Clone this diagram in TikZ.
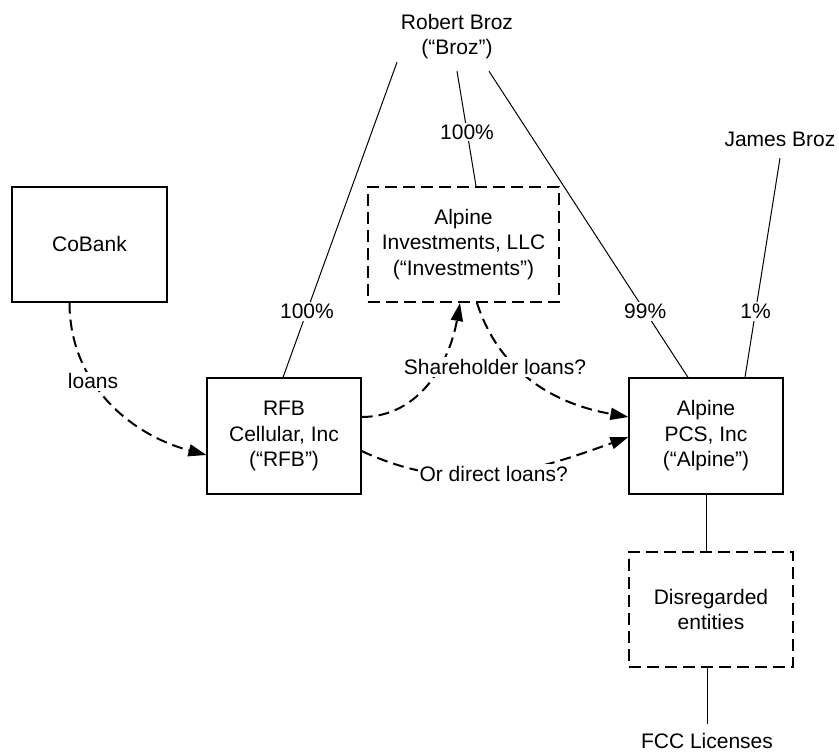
\documentclass[tikz,border=0pt]{standalone}
\usepackage{fontspec}
\setmainfont{Liberation Sans}
\usepackage{tikz}
\usetikzlibrary{arrows.meta}

\begin{document}
\begin{tikzpicture}[x=1pt, y=1pt, >={Triangle[length=18pt,width=12pt]},
  font=\fontsize{21}{25.5}\selectfont,
  box/.style={draw, line width=1.2pt, align=center, inner sep=0pt},
  dbox/.style={box, line width=2pt, dash pattern=on 12pt off 6pt},
  own/.style={line width=1pt},
  loan/.style={->, line width=2pt, dash pattern=on 11pt off 6pt},
  pct/.style={fill=white, inner sep=2pt}]
  \useasboundingbox (0,0) rectangle (839,752);
  % entities
  \node[box, minimum width=155pt, minimum height=115pt] (cobank) at (89.5,507.5) {CoBank};
  \node[box, minimum width=154pt, minimum height=116pt] (rfb) at (284,316) {RFB\\Cellular, Inc\\(“RFB”)};
  \node[dbox, minimum width=191pt, minimum height=115pt] (inv) at (463.5,507.5) {Alpine\\Investments, LLC\\(“Investments”)};
  \node[box, minimum width=154pt, minimum height=116pt] (alpine) at (706,316) {Alpine\\PCS, Inc\\(“Alpine”)};
  \node[dbox, minimum width=164pt, minimum height=115pt] (disreg) at (711,142.5) {Disregarded\\entities};
  \node[align=center, minimum height=69pt, inner sep=0pt] (broz) at (457,715.5) {Robert Broz\\(“Broz”)};
  \node[minimum height=38pt, inner sep=0pt] (james) at (780,613) {James Broz};
  \node[minimum height=34pt, inner sep=0pt] (fcc) at (707,11) {FCC Licenses};
  % ownership
  \draw[own] ([xshift=-60pt,yshift=9pt]broz.south) -- node[pct, pos=0.79] {100\%} ([xshift=-1pt]rfb.north);
  \draw[own] (broz.south) -- node[pct, pos=0.53] {100\%} ([xshift=12.5pt]inv.north);
  \draw[own] ([xshift=32pt]broz.south) -- node[pct, pos=0.785] {99\%} ([xshift=-18pt]alpine.north);
  \draw[own] (james.south) -- node[pct, pos=0.70] {1\%} ([xshift=39pt]alpine.north);
  \draw[own] (alpine.south) -- (alpine.south |- disreg.north);
  \draw[own] (disreg.south -| fcc.north) -- (fcc.north);
  % loans
  \draw[loan] ([xshift=-20pt]cobank.south) to[out=-90, in=165] node[pct, pos=0.38] {loans} ([yshift=-19pt]rfb.west);
  \draw[loan] ([yshift=19pt]rfb.east) to[out=0, in=-100] ([xshift=-3.5pt]inv.south);
  \draw[loan] ([xshift=13.5pt]inv.south) to[out=-72, in=170] ([yshift=19pt]alpine.west);
  \draw[loan] ([yshift=-15pt]rfb.east) to[out=-25, in=200] node[pct] {Or direct loans?} ([yshift=-1pt]alpine.west);
  \node[pct] (shl) at (495,385) {Shareholder loans?};
\end{tikzpicture}
\end{document}
